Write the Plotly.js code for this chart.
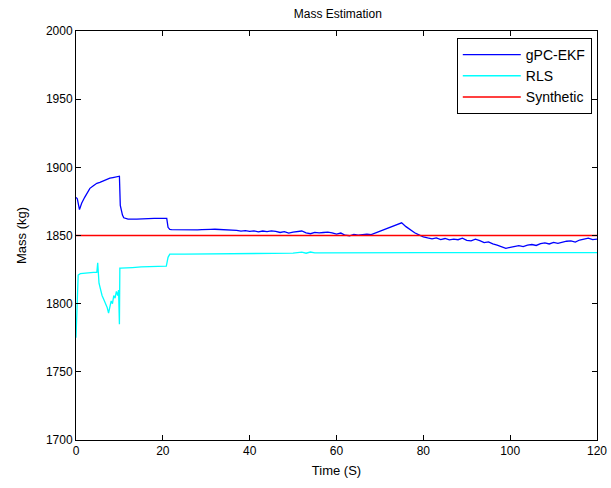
<!DOCTYPE html>
<html>
<head>
<meta charset="utf-8">
<script src="https://cdn.plot.ly/plotly-3.0.1.min.js"></script>
<style>html,body{margin:0;padding:0;background:#fff;}#chart{width:611px;height:488px;}</style>
</head>
<body>
<div id="chart"></div>
<script>
// gPC-EKF estimate
const ekfTime = [0, 0.3, 0.8, 1.3, 2, 3.2, 4, 4.8, 5.5, 6.3, 7, 7.8, 8.5, 9.2, 9.9, 10.0, 10.2, 10.4, 10.7, 11, 12, 14, 16, 18, 20, 20.9, 21.2, 21.6,
  22, 23, 24, 25, 26, 27, 28, 29, 30, 31, 32, 33, 34, 35, 36, 37, 38, 39, 40, 41, 42, 43, 44, 45, 46, 47, 48, 49, 50,
  51, 52, 53, 54, 55, 56, 57, 58, 59, 60, 61, 62, 63, 64, 65, 66, 67, 68, 69, 70, 71, 72, 73, 74, 75, 76, 77, 78, 79, 80,
  81, 82, 83, 84, 85, 86, 87, 88, 89, 90, 91, 92, 93, 94, 95, 96, 97, 98, 99, 100, 101, 102, 103, 104, 105, 106, 107, 108, 109, 110,
  111, 112, 113, 114, 115, 116, 117, 118, 119, 120];
const ekfMass = [1878, 1877, 1869, 1873.6, 1878, 1884.6, 1886.5, 1888.3, 1889, 1890.2, 1891, 1892, 1892.5, 1893, 1893.9, 1893.5, 1872, 1869, 1865, 1863, 1862, 1862, 1862.5, 1862.5, 1862.5, 1862.5, 1856, 1854.5,
  1854.3, 1854.2, 1854.0, 1854.2, 1854.1, 1854.0, 1854.1, 1854.3, 1854.2, 1854.5, 1854.6, 1854.4, 1854.3, 1854.5, 1854.1, 1853.8, 1853.2, 1853.6, 1853.0, 1853.4, 1852.7, 1853.3, 1852.9, 1853.4, 1853.1, 1852.2, 1852.8, 1851.8, 1852.4,
  1852.9, 1853.3, 1852.0, 1851.3, 1852.3, 1851.9, 1852.2, 1852.5, 1852.0, 1851.0, 1851.8, 1850.2, 1849.8, 1850.8, 1850.3, 1850.5, 1851.0, 1850.6, 1851.8, 1853.0, 1854.2, 1855.5, 1857.0, 1857.8, 1859.3, 1856.5, 1854.0, 1852.0, 1850.5, 1849.0,
  1848.2, 1847.5, 1848.3, 1847.0, 1847.8, 1846.8, 1847.4, 1846.9, 1848.0, 1846.5, 1846.0, 1847.3, 1846.2, 1844.8, 1845.3, 1843.8, 1843.0, 1841.5, 1840.6, 1841.3, 1841.8, 1842.5, 1841.9, 1843.0, 1843.4, 1842.7, 1844.0, 1844.6, 1843.8, 1845.0,
  1844.3, 1845.3, 1845.8, 1846.1, 1845.2, 1846.7, 1847.5, 1848.1, 1847.0, 1847.3];

// RLS estimate
const rlsTime = [0, 0.2, 0.5, 1, 2, 3, 4, 4.8, 5.0, 5.3, 5.6, 6.0, 6.4, 6.8, 7.2, 7.5, 7.8, 8.1, 8.4, 8.7, 9.0, 9.3, 9.6, 9.8,
  10.0, 10.1, 10.3, 11, 13, 15, 17, 19, 20.8, 21.2, 21.6, 25, 30, 40, 50, 52, 53, 54, 55, 56, 60, 70, 80, 90, 100, 110, 120];
const rlsMass = [1775, 1800, 1821, 1822, 1822.5, 1823, 1823, 1823, 1830, 1815, 1810, 1806, 1803, 1800, 1797, 1793, 1799, 1802, 1800, 1806, 1804, 1809, 1806, 1810,
  1785, 1826, 1826, 1826, 1826.5, 1827, 1827, 1827.3, 1827.5, 1834, 1836.3, 1836.4, 1836.5, 1836.8, 1837.0, 1837.8, 1837.0, 1837.9, 1837.2, 1837.3, 1837.4, 1837.5, 1837.5, 1837.5, 1837.5, 1837.5, 1837.5];

// Synthetic (true) mass
const synTime = [0, 120];
const synMass = [1850, 1850];

const seriesNames = ["gPC-EKF", "RLS", "Synthetic"];
const xTicks = [0, 20, 40, 60, 80, 100, 120];
const yTicks = [1700, 1750, 1800, 1850, 1900, 1950, 2000];

const fontFam = "Liberation Sans Narrow, Arial Narrow, Liberation Sans, Arial, sans-serif";

const traces = [
  {x: ekfTime, y: ekfMass, name: seriesNames[0], mode: "lines", line: {color: "#0000ff", width: 1.3}},
  {x: rlsTime, y: rlsMass, name: seriesNames[1], mode: "lines", line: {color: "#00ffff", width: 1.3}},
  {x: synTime, y: synMass, name: seriesNames[2], mode: "lines", line: {color: "rgb(255,0,0)", width: 1.6}}
];

const axisCommon = {
  showgrid: false, zeroline: false, showline: true, linecolor: "#000", linewidth: 1,
  mirror: "ticks", ticks: "inside", ticklen: 5, tickcolor: "#000",
  tickfont: {family: fontFam, size: 12, color: "#000"}
};

const layout = {
  width: 611, height: 488,
  paper_bgcolor: "#fff", plot_bgcolor: "#fff",
  margin: {l: 76, r: 14, t: 31, b: 48},
  title: {text: "Mass Estimation", font: {family: fontFam, size: 12, color: "#000"}, x: 0.553, xanchor: "center", y: 0.972, yanchor: "middle"},
  xaxis: Object.assign({}, axisCommon, {range: [0, 120], tickvals: xTicks, title: {text: "Time (S)", font: {family: fontFam, size: 13, color: "#000"}, standoff: 8}}),
  yaxis: Object.assign({}, axisCommon, {range: [1700, 2000], tickvals: yTicks, title: {text: "Mass (kg)", font: {family: fontFam, size: 13, color: "#000"}, standoff: 16}}),
  showlegend: true,
  legend: {x: 0.99, xanchor: "right", y: 0.983, yanchor: "top", bgcolor: "#fff", bordercolor: "#000", borderwidth: 1,
    itemwidth: 58, font: {family: fontFam, size: 14, color: "#000"}},
};

Plotly.newPlot("chart", traces, layout, {staticPlot: true, displayModeBar: false});
</script>
</body>
</html>
